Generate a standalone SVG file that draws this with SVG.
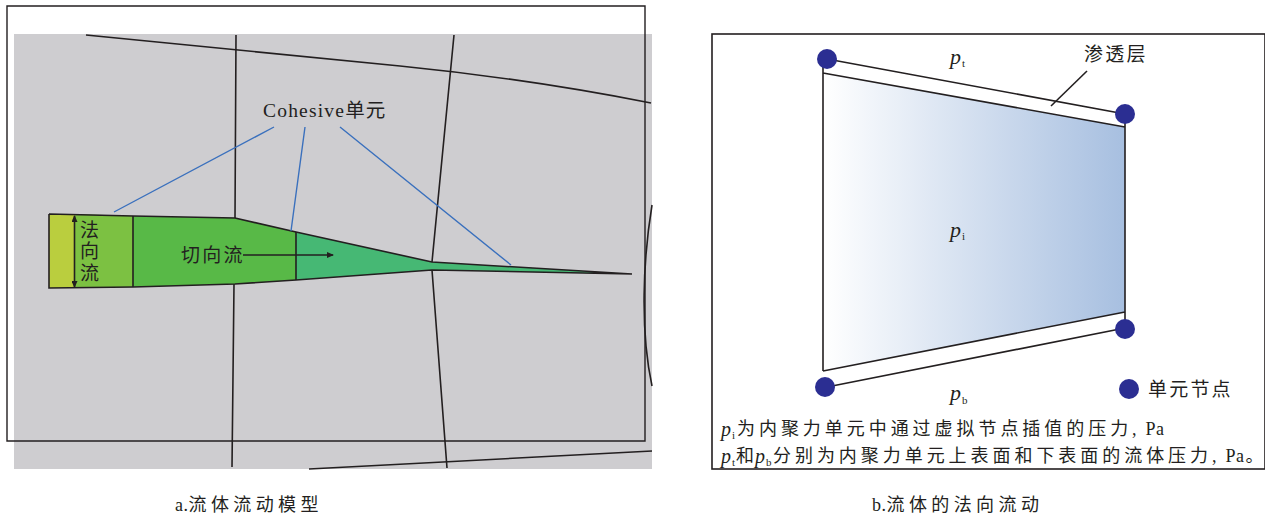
<svg xmlns="http://www.w3.org/2000/svg" width="1265" height="517" viewBox="0 0 1265 517">
<style>
text{font-family:"Liberation Serif","Noto Sans CJK SC",serif;fill:#231f20}
.t{font-size:19px;letter-spacing:2.200px}
.n{font-size:18px;letter-spacing:4.400px}
.i{font-style:italic;font-size:22px}
.j{font-style:italic;font-size:20px}
.s{font-size:11px}
.l{fill:none;stroke:#231f20;stroke-width:1.6}
.b{fill:none;stroke:#3a70bd;stroke-width:1.4}
.e{stroke:#231f20;stroke-width:1.6}
.d{fill:#2b2e92}
.c{font-size:18px}
.o{letter-spacing:.5px}
</style>
<defs>
<linearGradient id="g" x1="0" x2="1" y1="0" y2="0"><stop offset="0" stop-color="#fff"/><stop offset="1" stop-color="#a7bfe0"/></linearGradient>
<marker id="a" markerWidth="7" markerHeight="6" refX="6" refY="3" orient="auto-start-reverse" markerUnits="userSpaceOnUse"><path d="M0 0L7 3L0 6Z" fill="#231f20"/></marker>
</defs>
<rect width="1265" height="517" fill="#fff"/>
<g id="panel-a">
<rect x="14" y="34" width="638" height="435" fill="#cecdd0"/>
<path d="M7 34V6H645V441H7V34" fill="none" stroke="#231f20" stroke-width="1.4"/>
<g id="fractures">
<path class="l" d="M86 35L400 66Q530 79 651 103"/>
<path class="l" d="M236 35L235 218M234 284L232 467"/>
<path class="l" d="M454 35L432 262M432 270L447 468"/>
<path class="l" d="M309 469L652 451"/>
<path class="l" d="M652 205C643 260 640 330 652 386"/>
</g>
<g id="fracture-fill">
<path d="M49 214H75V288H49Z" fill="#bace3e"/>
<path d="M75 214L133 216V287L75 288Z" fill="#7cc142"/>
<path d="M133 216L235 218L296 232V280L235 284L133 287Z" fill="#58b947"/>
<path d="M296 232L432 262L632 274L432 270L296 280Z" fill="#46b874"/>
<path class="l" d="M49 214L133 216L235 218L296 232L432 262L632 274M49 214V288L133 287L235 284L296 280L432 270L632 274"/>
<path class="l" d="M133 216V287M296 232V280"/>
<path d="M74.500 216V287" class="e" fill="none" marker-start="url(#a)" marker-end="url(#a)"/>
<path d="M243 255H333" class="e" fill="none" marker-end="url(#a)"/>
</g>
<g id="labels-a">
<text class="t" x="80" y="237">法</text>
<text class="t" x="80" y="258">向</text>
<text class="t" x="80" y="280">流</text>
<text class="t" x="181" y="262">切向流</text>
<text x="263" y="117" style="font-size:19.500px;letter-spacing:1.200px">Cohesive单元</text>
<path class="b" d="M114 212L274 127M291 231L305 127M340 127L511 265"/>
</g>
<text class="n" x="175" y="511"><tspan class="o">a.</tspan>流体流动模型</text>
</g>
<g id="panel-b">
<rect x="712" y="34" width="553" height="435" fill="#fff" stroke="#231f20" stroke-width="1.6"/>
<path d="M823 73L1125 127V312L823 371Z" fill="url(#g)"/>
<g id="cell-lines">
<path class="l" d="M827 59L1125 114M823 73L1125 127M823 59V371M1125 114V328M823 371L1125 312M827 387L1125 328"/>
<path class="l" d="M1087 71L1051 106"/>
</g>
<g id="nodes">
<circle class="d" cx="827" cy="59" r="10"/>
<circle class="d" cx="1125" cy="114" r="10"/>
<circle class="d" cx="1125" cy="329" r="10"/>
<circle class="d" cx="825" cy="387" r="10"/>
<circle class="d" cx="1129" cy="389" r="10"/>
</g>
<g id="labels-b">
<text class="i" x="950" y="64">p</text><text class="s" x="962" y="67">t</text>
<text class="i" x="950" y="237">p</text><text class="s" x="962" y="240">i</text>
<text class="i" x="950" y="400">p</text><text class="s" x="962" y="404">b</text>
<text class="t" x="1084" y="61">渗透层</text>
<text class="t" x="1148" y="396">单元节点</text>
<text class="j" x="721" y="436">p</text><text class="s" x="732" y="439">i</text>
<text class="c" x="737" y="435" style="letter-spacing:3.950px">为内聚力单元中通过虚拟节点插值的压力,<tspan class="o"> Pa</tspan></text>
<text class="j" x="721" y="463">p</text><text class="s" x="732" y="466">t</text>
<text class="c" x="736" y="462">和</text>
<text class="j" x="755" y="463">p</text><text class="s" x="766" y="466">b</text>
<text class="c" x="773" y="462" style="letter-spacing:3.950px">分别为内聚力单元上表面和下表面的流体压力,<tspan class="o"> Pa</tspan><tspan dx="1">。</tspan></text>
</g>
<text class="n" x="872" y="511"><tspan class="o">b.</tspan>流体的法向流动</text>
</g>
</svg>
